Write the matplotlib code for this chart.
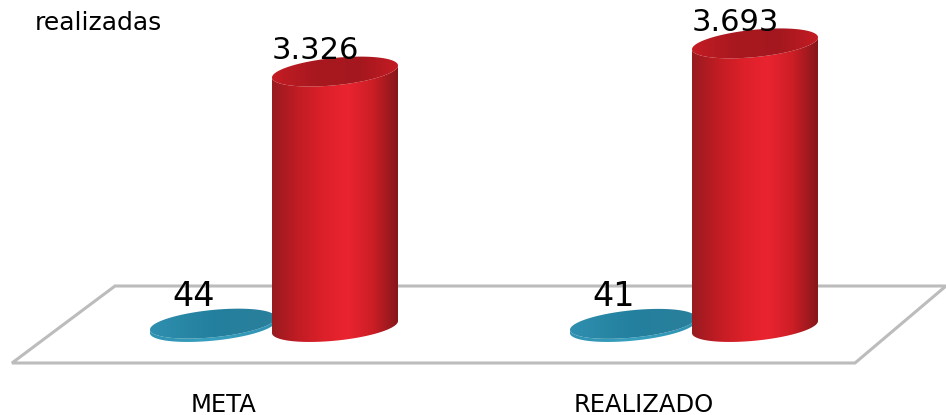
import numpy as np
import matplotlib
matplotlib.use("Agg")
import matplotlib.pyplot as plt
from matplotlib.colors import LinearSegmentedColormap
from matplotlib.patches import Polygon

categories = ["META", "REALIZADO"]
series_a = [44, 41]
series_b = [3326, 3693]
labels_a = ["44", "41"]
labels_b = ["3.326", "3.693"]
title = "realizadas"

W, H = 946, 415
PX_PER_UNIT = 0.0768
BASE_PX = 327
CAT0_PX, CAT_STEP_PX = 274, 420

fig = plt.figure(figsize=(W / 100, H / 100), dpi=100)
ax = fig.add_axes([0, 0, 1, 1])
ax.set_xlim((0 - CAT0_PX) / CAT_STEP_PX, (W - CAT0_PX) / CAT_STEP_PX)
ax.set_ylim((BASE_PX - H) / PX_PER_UNIT, BASE_PX / PX_PER_UNIT)
ax.axis("off")
px = lambda x, y: (x / W, 1 - y / H)

# floor (drawn in axes-fraction coordinates)
floor = [(12, 363), (115, 286), (946, 286), (855, 363)]
ax.add_patch(Polygon([px(*p) for p in floor], closed=True, fill=False, edgecolor="#bcbcbc",
                     lw=2.2, transform=ax.transAxes, zorder=1, clip_on=True))

RX = 63 / CAT_STEP_PX
RY = 13.7 / PX_PER_UNIT
SKEW = 6 / PX_PER_UNIT

red_side = LinearSegmentedColormap.from_list("rs", [(0, "#971b20"), (0.18, "#bd1c23"), (0.4, "#dc2029"),
                                                    (0.6, "#ea2430"), (0.8, "#cc1e26"), (1, "#86171a")])
red_top = LinearSegmentedColormap.from_list("rt", [(0, "#c41c24"), (0.35, "#a8181f"), (0.7, "#a5171e"), (1, "#c41c24")])
teal_side = LinearSegmentedColormap.from_list("ts", ["#2f93b2", "#38a0bf", "#2f93b2"])
teal_top = LinearSegmentedColormap.from_list("tt", [(0, "#2f8fae"), (0.5, "#23809e"), (1, "#2a7f9c")])


def ellipse(cx, cy, rx, n=200):
    t = np.linspace(0, 2 * np.pi, n)
    return cx + rx * np.cos(t), cy + RY * np.sin(t) + SKEW * np.cos(t)


def gradient(cmap, poly, x0, x1, y0, y1, z):
    g = np.linspace(0, 1, 256).reshape(1, -1)
    im = ax.imshow(g, cmap=cmap, extent=[x0, x1, y0, y1], aspect="auto", zorder=z, interpolation="bilinear")
    patch = Polygon(poly, closed=True, transform=ax.transData, fc="none", ec="none")
    ax.add_patch(patch)
    im.set_clip_path(patch)


def cylinder(cx, value, side, top, z):
    t = np.linspace(np.pi, 2 * np.pi, 100)
    bx = cx + RX * np.cos(t)
    by = RY * np.sin(t) + SKEW * np.cos(t)
    tx = bx[::-1]
    ty = value + RY * np.sin(t[::-1]) + SKEW * np.cos(t[::-1])
    body = np.column_stack([np.r_[bx, tx], np.r_[by, ty]])
    gradient(side, body, cx - RX, cx + RX, -3 * RY, value + 3 * RY, z)
    ex, ey = ellipse(cx, value, RX)
    gradient(top, np.column_stack([ex, ey]), cx - RX, cx + RX, value - 3 * RY, value + 3 * RY, z + 0.1)


OFFSET = 61 / CAT_STEP_PX
for i, cat in enumerate(categories):
    cylinder(i - OFFSET, series_a[i], teal_side, teal_top, 2)
    cylinder(i + OFFSET, series_b[i], red_side, red_top, 3)
    ax.annotate(labels_a[i], (i - OFFSET, series_a[i]), xytext=(-14, 19.5), textcoords="offset points",
                ha="center", va="center", fontsize=24, color="black", zorder=5)
    ax.annotate(labels_b[i], (i + OFFSET, series_b[i]), xytext=(-14, 15), textcoords="offset points",
                ha="center", va="center", fontsize=22, color="black", zorder=5)
    ax.annotate(cat, (i, 0), xytext=(-36, -56), textcoords="offset points",
                ha="center", va="center", fontsize=17.5, color="black")

fig.text(35 / W, 1 - 23 / H, title, ha="left", va="center", fontsize=18, color="black")
fig.savefig("out.png", dpi=100)
